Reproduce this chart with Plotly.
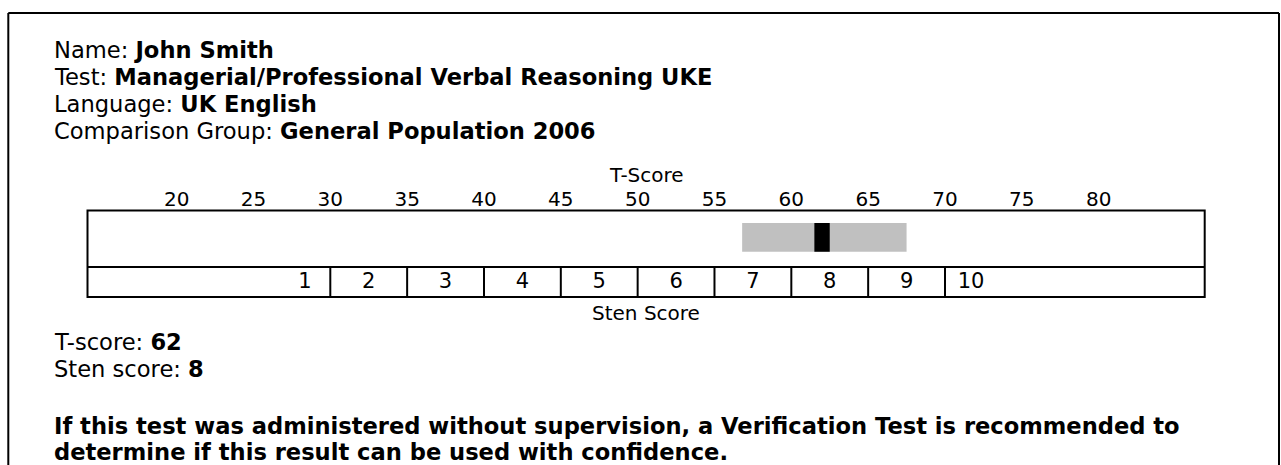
import plotly.graph_objects as go

# ---------------- data ----------------
t_ticks = [20, 25, 30, 35, 40, 45, 50, 55, 60, 65, 70, 75, 80]
sten_labels = ["1", "2", "3", "4", "5", "6", "7", "8", "9", "10"]
sten_cutpoints = [30, 35, 40, 45, 50, 55, 60, 65, 70]   # T-score boundaries between stens
t_score = 62
sten_score = 8
band_low = 56.8      # confidence band (T-score)
band_high = 67.5

candidate_name = "John Smith"
test_name = "Managerial/Professional Verbal Reasoning UKE"
language = "UK English"
comparison_group = "General Population 2006"
note_lines = [
    "If this test was administered without supervision, a Verification Test is recommended to",
    "determine if this result can be used with confidence.",
]

# ---------------- layout helpers ----------------
W, H = 1281, 465
FONT = "DejaVu Sans"
BOX_L, BOX_R, BOX_T, BOX_B = 87.5, 1204.7, 210.5, 297.0
X_RANGE = [14.2, 86.9]
SEP = 0.347          # top of sten row (fraction of box height)
BAND_Y0, BAND_Y1 = 0.524, 0.855
STEN_Y = 0.165
BODY = 22.6


def px(x):
    return x / W


def py(y):
    return 1 - y / H


fig = go.Figure()

# confidence band and score marker (horizontal bars on the T-score axis)
band_mid = (BAND_Y0 + BAND_Y1) / 2
band_w = BAND_Y1 - BAND_Y0
fig.add_trace(go.Bar(
    orientation="h", base=[band_low], x=[band_high - band_low], y=[band_mid],
    width=band_w, marker=dict(color="#c0c0c0", line=dict(width=0)),
    hoverinfo="skip", showlegend=False))
fig.add_trace(go.Bar(
    orientation="h", base=[t_score - 0.5], x=[1.0], y=[band_mid],
    width=band_w, marker=dict(color="#000000", line=dict(width=0)),
    hoverinfo="skip", showlegend=False))

# sten cell dividers
lx, ly = [], []
for c in sten_cutpoints:
    lx += [c, c, None]
    ly += [0, SEP, None]
fig.add_trace(go.Scatter(x=lx, y=ly, mode="lines",
                         line=dict(color="black", width=2),
                         hoverinfo="skip", showlegend=False))

# sten labels: cells 2-9 centred, 1 and 10 next to their boundary
sx = [sten_cutpoints[0] - 1.65]
for a, b in zip(sten_cutpoints[:-1], sten_cutpoints[1:]):
    sx.append((a + b) / 2)
sx.append(sten_cutpoints[-1] + 1.7)
fig.add_trace(go.Scatter(x=sx, y=[STEN_Y] * len(sx), mode="text",
                         text=sten_labels, textposition="middle center",
                         textfont=dict(family=FONT, size=21, color="black"),
                         hoverinfo="skip", showlegend=False))

shapes = [
    # chart box and separator
    dict(type="rect", xref="x domain", yref="y domain", x0=0, x1=1, y0=0, y1=1,
         line=dict(color="black", width=2), fillcolor="rgba(0,0,0,0)", layer="above"),
    dict(type="line", xref="x domain", yref="y", x0=0, x1=1, y0=SEP, y1=SEP,
         line=dict(color="black", width=2), layer="above"),
    # outer frame (left, top, right)
    dict(type="line", xref="paper", yref="paper", x0=px(8.3), x1=px(8.3), y0=py(13), y1=-0.02,
         line=dict(color="black", width=2)),
    dict(type="line", xref="paper", yref="paper", x0=px(8.3), x1=px(1279), y0=py(13), y1=py(13),
         line=dict(color="black", width=2)),
    dict(type="line", xref="paper", yref="paper", x0=px(1279), x1=px(1279), y0=py(13), y1=-0.02,
         line=dict(color="black", width=2)),
]

annotations = []


def text_at(txt, x, y, size=BODY, anchor="left"):
    annotations.append(dict(
        text=txt, x=px(x), y=py(y), xref="paper", yref="paper",
        xanchor=anchor, yanchor="middle", showarrow=False,
        font=dict(family=FONT, size=size, color="black")))


LX = 52
text_at(f"Name: <b>{candidate_name}</b>", LX, 50)
text_at(f"Test: <b>{test_name}</b>", LX, 77)
text_at(f"Language: <b>{language}</b>", LX, 104)
text_at(f"Comparison Group: <b>{comparison_group}</b>", LX, 131)
text_at("T-Score", (BOX_L + BOX_R) / 2, 175, size=20, anchor="center")
text_at("Sten Score", (BOX_L + BOX_R) / 2, 313, size=20, anchor="center")
text_at(f"T-score: <b>{t_score}</b>", LX, 342)
text_at(f"Sten score: <b>{sten_score}</b>", LX, 369)
text_at(f"<b>{note_lines[0]}</b>", LX, 426)
text_at(f"<b>{note_lines[1]}</b>", LX, 452)

fig.update_layout(
    width=W, height=H,
    margin=dict(l=0, r=0, t=0, b=0),
    paper_bgcolor="white", plot_bgcolor="white",
    barmode="overlay",
    shapes=shapes, annotations=annotations,
    xaxis=dict(domain=[px(BOX_L), px(BOX_R)], range=X_RANGE, side="top",
               tickmode="array", tickvals=t_ticks, ticktext=[str(t) for t in t_ticks],
               ticks="", showgrid=False, zeroline=False, showline=False,
               ticklabelstandoff=0,
               tickfont=dict(family=FONT, size=20, color="black")),
    yaxis=dict(domain=[py(BOX_B), py(BOX_T)], range=[0, 1],
               showticklabels=False, ticks="", showgrid=False,
               zeroline=False, showline=False),
    showlegend=False,
)

fig.write_html("out.html", config={"displayModeBar": False},
               post_script="document.body.style.margin='0';document.body.style.overflow='hidden';")
